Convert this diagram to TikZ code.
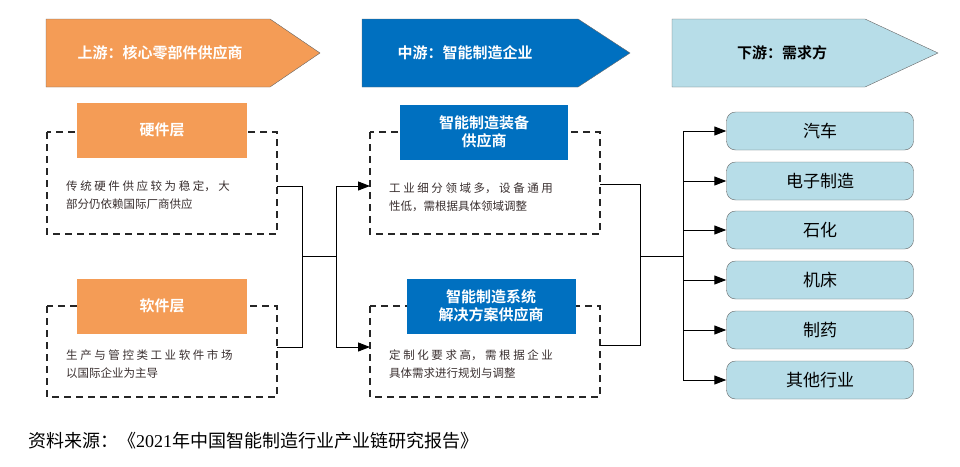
\documentclass[tikz,border=0pt]{standalone}
\usepackage{fontspec}
\setmainfont{Liberation Serif}
\newfontfamily\cjk{Noto Sans CJK SC}
\newfontfamily\cjkb{Noto Sans CJK SC Bold}
\usetikzlibrary{arrows.meta}
\definecolor{org}{HTML}{F49C56}
\definecolor{blu}{HTML}{0070C0}
\definecolor{lbl}{HTML}{B7DDE8}
\definecolor{txt}{HTML}{3A3030}
\begin{document}
\begin{tikzpicture}[x=1pt,y=-1pt,
  dbox/.style={draw=black!85,line width=1.3pt,dash pattern=on 7pt off 5pt},
  hdr/.style={minimum width=170pt,minimum height=55pt,font=\cjkb\fontsize{15}{18}\selectfont,text=white,align=center,inner sep=0pt},
  body/.style={font=\cjk\fontsize{11.5}{18}\selectfont,text=txt,align=left,anchor=west,inner sep=0pt},
  dem/.style={draw=black!60,fill=lbl,rounded corners=9pt,minimum width=187pt,minimum height=38pt,font=\cjk\fontsize{17}{20}\selectfont,inner sep=0pt},
  arr/.style={-{Triangle[length=12pt,width=9pt]},line width=1pt},
  ln/.style={line width=1pt}]
\useasboundingbox (0,0) rectangle (960,466);
% top arrows
\draw[fill=org,draw=black!60] (46,19) -- (270,19) -- (320,53) -- (270,87) -- (46,87) -- cycle;
\node[font=\cjkb\fontsize{15}{18}\selectfont,text=white] (t1) at (160,53) {上游：核心零部件供应商};
\draw[fill=blu,draw=black!60] (362,19) -- (578,19) -- (630,53) -- (578,87) -- (362,87) -- cycle;
\node[font=\cjkb\fontsize{15}{18}\selectfont,text=white] (t2) at (465,53) {中游：智能制造企业};
\draw[fill=lbl,draw=black!60] (672,19) -- (865,19) -- (938,53) -- (865,87) -- (672,87) -- cycle;
\node[font=\cjkb\fontsize{15}{18}\selectfont] (t3) at (782,53) {下游：需求方};
% left dashed boxes
\draw[dbox] (47,132) rectangle (277,234);
\node[hdr,fill=org] (h1) at (162,130) {硬件层};
\node[body] (b1) at (66,195) {传 统 硬 件 供 应 较 为 稳 定， 大\\部分仍依赖国际厂商供应};
\draw[dbox] (47,306) rectangle (277,397);
\node[hdr,fill=org] (h2) at (162,306) {软件层};
\node[body] (b2) at (66,364) {生 产 与 管 控 类 工 业 软 件 市 场\\以国际企业为主导};
% middle dashed boxes
\draw[dbox] (370,132) rectangle (600,234);
\node[hdr,fill=blu,minimum width=168pt] (h3) at (484,132) {智能制造装备\\供应商};
\node[body] (b3) at (389,197) {工 业 细 分 领 域 多， 设 备 通 用\\性低，需根据具体领域调整};
\draw[dbox] (370,306) rectangle (600,397);
\node[hdr,fill=blu,minimum width=169pt] (h4) at (491,306) {智能制造系统\\解决方案供应商};
\node[body] (b4) at (389,364) {定 制 化 要 求 高， 需 根 据 企 业\\具体需求进行规划与调整};
% coordinates
\coordinate (l1) at (277,186); \coordinate (l2) at (277,347);
\coordinate (m1) at (370,186); \coordinate (m2) at (370,347);
\draw[ln] (l1) -- (302,186) -- (302,347) -- (l2);
\draw[ln] (302,256) -- (336,256);
\draw[ln] (336,186) -- (336,347);
\draw[arr] (336,186) -- (m1);
\draw[arr] (336,347) -- (m2);
% right demand boxes
\node[dem] (d1) at (820,131) {汽车};
\node[dem] (d2) at (820,181) {电子制造};
\node[dem] (d3) at (820,230) {石化};
\node[dem] (d4) at (820,280) {机床};
\node[dem] (d5) at (820,330) {制药};
\node[dem] (d6) at (820,380) {其他行业};
\coordinate (r1) at (600,184); \coordinate (r2) at (600,345);
\draw[ln] (r1) -- (640,184) -- (640,345) -- (r2);
\draw[ln] (640,256) -- (683,256);
\draw[ln] (683,131) -- (683,380);
\foreach \n in {d1,d2,d3,d4,d5,d6} \draw[arr] (683,0 |- \n.west) -- (\n.west);
% caption
\node[anchor=west,inner sep=0pt,font=\fontsize{18}{20}\selectfont] (cap) at (28,441) {{\cjk 资料来源：《}2021{\cjk 年中国智能制造行业产业链研究报告》}};
\end{tikzpicture}
\end{document}
